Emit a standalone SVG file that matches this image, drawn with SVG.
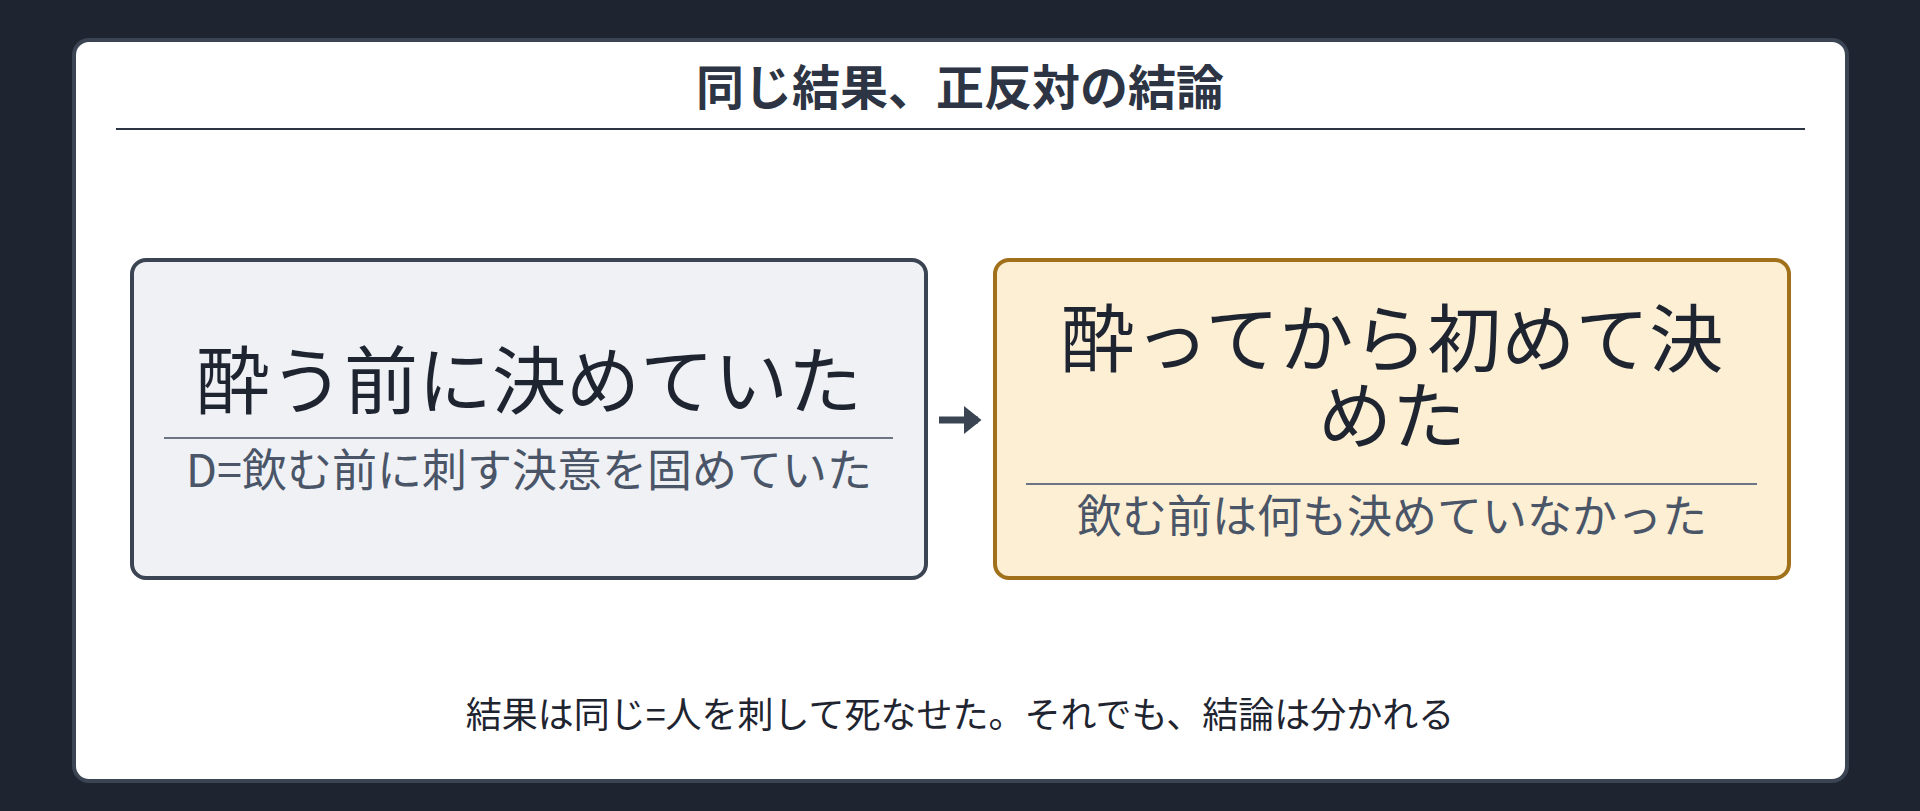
<svg xmlns="http://www.w3.org/2000/svg" width="1920" height="811" viewBox="0 0 1920 811">
<defs>
<style>
text{font-family:"Noto Sans CJK JP","Noto Sans",sans-serif;text-anchor:middle}
.main{font-size:74px;fill:#1f2530}
.sub{font-size:45px;fill:#4a5568}
.div{stroke:#6b7585;stroke-width:2}
</style>
<marker id="ah" markerWidth="4" markerHeight="4" refX="2" refY="2" orient="auto" markerUnits="strokeWidth"><path d="M0,0 L2.5,2 L0,4 z" fill="#3b4452"/></marker>
</defs>
<rect width="1920" height="811" fill="#1e2430"/>
<rect x="74" y="40" width="1773" height="741" rx="15" fill="#fff" stroke="#3b4452" stroke-width="4"/>
<g id="title">
<text x="960" y="105" style="font-size:48px;font-weight:bold;fill:#2d3544">同じ結果、正反対の結論</text>
<line x1="116" y1="129" x2="1805" y2="129" stroke="#2d3544" stroke-width="2"/>
</g>
<g id="left">
<rect x="132" y="260" width="794" height="318" rx="14" fill="#eff1f5" stroke="#3b4452" stroke-width="4"/>
<text class="main" x="529" y="408">酔う前に決めていた</text>
<line class="div" x1="164" y1="438" x2="893" y2="438"/>
<text class="sub" x="529" y="487">D=飲む前に刺す決意を固めていた</text>
</g>
<g id="right">
<rect x="995" y="260" width="794" height="318" rx="14" fill="#fcefd4" stroke="#a0701a" stroke-width="4"/>
<text class="main" x="1392" y="366">酔ってから初めて決</text>
<text class="main" x="1392" y="443">めた</text>
<line class="div" x1="1026" y1="484" x2="1757" y2="484"/>
<text class="sub" x="1392" y="533">飲む前は何も決めていなかった</text>
</g>
<g id="connectors">
<line x1="939" y1="420" x2="978" y2="420" stroke="#3b4452" stroke-width="7" marker-end="url(#ah)"/>
</g>
<g id="footer">
<text x="960" y="728" style="font-size:36px;fill:#1f2530">結果は同じ=人を刺して死なせた。それでも、結論は分かれる</text>
</g>
</svg>
